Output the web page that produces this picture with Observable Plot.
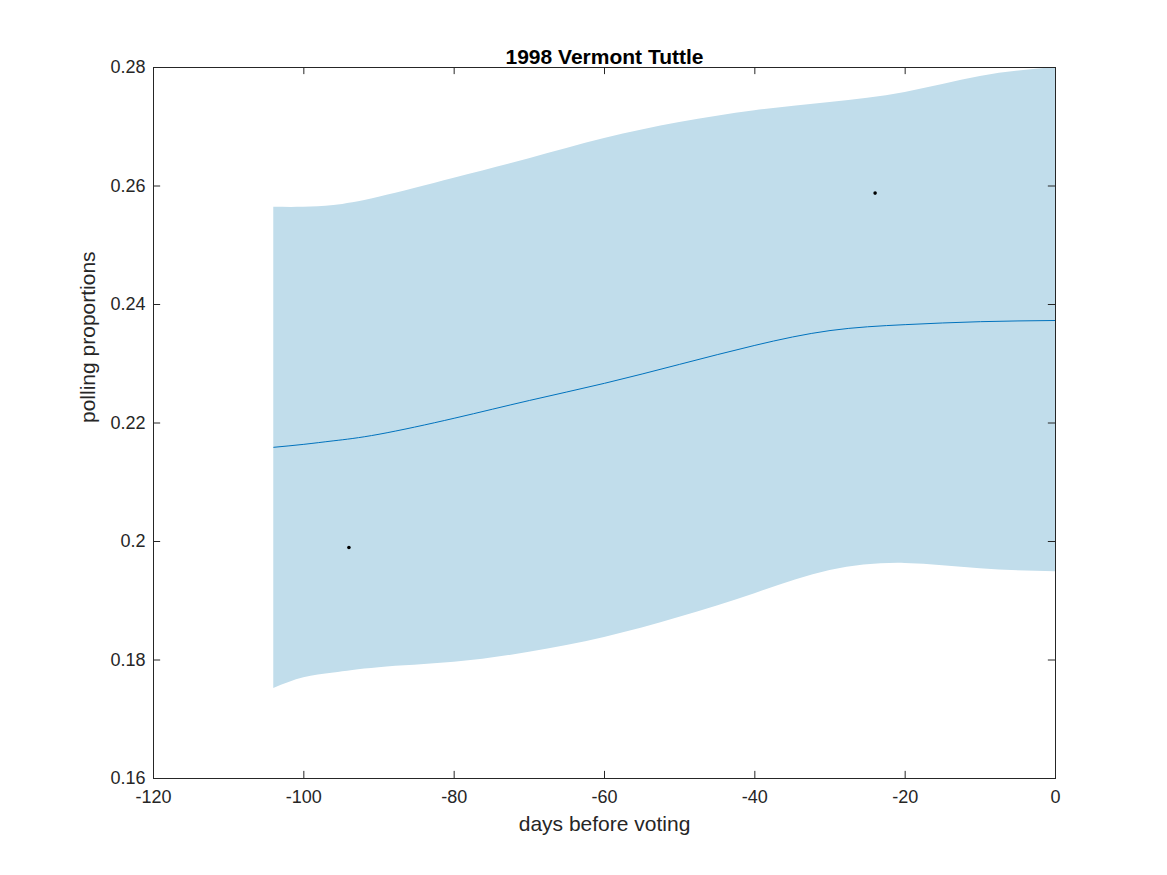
<!DOCTYPE html>
<html><head><meta charset="utf-8">
<script src="https://cdn.jsdelivr.net/npm/d3@7"></script>
<script src="https://cdn.jsdelivr.net/npm/@observablehq/plot@0.6"></script>
<style>body{margin:0;background:#fff;font-family:"Liberation Sans",Arial,sans-serif}</style>
</head><body><div id="c"></div>
<script>
const days = [-104,-100,-96,-90,-80,-70,-60,-50,-40,-30,-20,-10,0];
const upper = [0.2564,0.2564,0.2567,0.2581,0.2613,0.2646,0.2680,0.2707,0.2727,0.2741,0.2758,0.2785,0.2800];
const mean  = [0.2159,0.2164,0.2170,0.2181,0.2208,0.2238,0.2267,0.2299,0.2331,0.2356,0.2366,0.2371,0.2373];
const lower = [0.1752,0.1770,0.1778,0.1787,0.1796,0.1813,0.1838,0.1872,0.1912,0.1951,0.1963,0.1954,0.1949];
const pollDays = [-94,-24];
const pollVals = [0.199,0.2588];
const xTicks = [-120,-100,-80,-60,-40,-20,0];
const yTicks = [0.16,0.18,0.2,0.22,0.24,0.26,0.28];

const band = days.map((d,i)=>({d,u:upper[i],m:mean[i],l:lower[i]}));
const polls = pollDays.map((d,i)=>({d,v:pollVals[i]}));
const tl = 0.0012, tlx = 0.95;
const chart = Plot.plot({
  width:1167, height:875,
  marginLeft:153, marginRight:112, marginTop:67, marginBottom:97,
  style:{fontFamily:"Liberation Sans, Arial, sans-serif", fontSize:"18px", color:"#262626"},
  x:{domain:[-120,0]}, y:{domain:[0.16,0.28]},
  marks:[
    Plot.areaY(band,{x:"d",y1:"l",y2:"u",fill:"#c1ddeb",curve:"natural"}),
    Plot.line(band,{x:"d",y:"m",stroke:"#0072bd",strokeWidth:1,curve:"natural"}),
    Plot.dot(polls,{x:"d",y:"v",r:1.8,fill:"black"}),
    Plot.frame({stroke:"#262626"}),
    Plot.ruleX(xTicks,{x:d=>d,y1:0.16,y2:0.16+tl,stroke:"#262626"}),
    Plot.ruleX(xTicks,{x:d=>d,y1:0.28,y2:0.28-tl,stroke:"#262626"}),
    Plot.ruleY(yTicks,{y:d=>d,x1:-120,x2:-120+tlx,stroke:"#262626"}),
    Plot.ruleY(yTicks,{y:d=>d,x1:0,x2:-tlx,stroke:"#262626"}),
    Plot.axisX({ticks:xTicks,tickSize:0,tickPadding:12,label:null,fontSize:18,tickFormat:d=>String(d)}),
    Plot.axisY({ticks:yTicks,tickSize:0,tickPadding:8,label:null,fontSize:18,tickFormat:d=>String(+d.toFixed(2))}),
    Plot.text(["days before voting"],{frameAnchor:"bottom",dy:52,fontSize:21,fill:"#262626"}),
    Plot.text(["polling proportions"],{frameAnchor:"left",dx:-65,rotate:-90,fontSize:21,fill:"#262626"}),
    Plot.text(["1998 Vermont Tuttle"],{frameAnchor:"top",dy:-18,fontSize:21,fontWeight:"bold",fill:"black"})
  ]
});
document.getElementById("c").appendChild(chart);
</script></body></html>
